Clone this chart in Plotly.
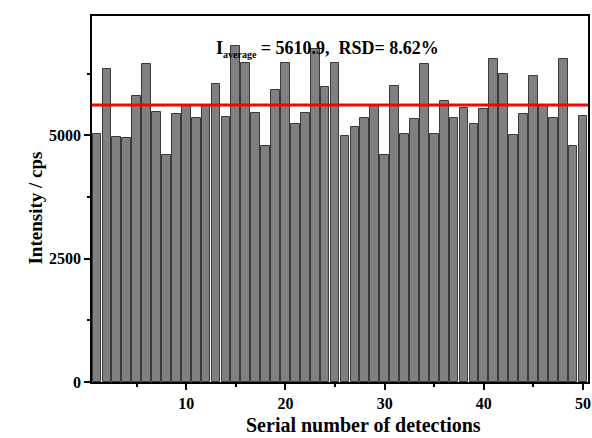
import plotly.graph_objects as go

serial = list(range(1, 51))
intensity = [5030, 6336, 4965, 4938, 5803, 6438, 5465, 4594, 5431, 5601,
             5357, 5601, 6046, 5370, 6809, 6472, 5442, 4782, 5917, 6464,
             5236, 5445, 6748, 5986, 6464, 4993, 5175, 5357, 5601, 4595,
             6006, 5033, 5323, 6438, 5019, 5702, 5357, 5546, 5228, 5532,
             6545, 6241, 4999, 5431, 6195, 5613, 5343, 6545, 4789, 5398]
average = 5610.9
rsd = 8.62
y_ticks = [0, 2500, 5000]
x_ticks = [10, 20, 30, 40, 50]

FONT = "Liberation Serif"

fig = go.Figure()
fig.add_trace(go.Bar(
    x=serial, y=intensity, width=0.88,
    marker=dict(color="#808080", line=dict(color="#3a3a3a", width=1)),
    showlegend=False,
))
fig.add_hline(y=average, line=dict(color="#ff0000", width=3))

axis_common = dict(
    showline=True, linecolor="black", linewidth=1.5, mirror=True,
    showgrid=False, zeroline=False,
    ticks="outside", tickcolor="black", tickwidth=1.5, ticklen=6,
    tickfont=dict(family=FONT, size=16, color="black", weight="bold"),
)

fig.update_xaxes(
    range=[0.5, 50.5], tickvals=x_ticks,
    minor=dict(tickvals=[5, 15, 25, 35, 45], ticks="outside", ticklen=3,
               tickcolor="black", tickwidth=1.5),
    **axis_common,
)
fig.update_yaxes(
    range=[0, 7416], tickvals=y_ticks,
    minor=dict(tickvals=[1250, 3750, 6250], ticks="outside", ticklen=3,
               tickcolor="black", tickwidth=1.5),
    **axis_common,
)

fig.add_annotation(
    xref="paper", yref="paper", x=-0.1386, y=0.476,
    text="Intensity / cps", textangle=-90, showarrow=False,
    font=dict(family=FONT, size=19, color="black", weight="bold"),
)
fig.add_annotation(
    xref="paper", yref="paper", x=0.547, y=-0.118, yanchor="middle",
    text="Serial number of detections", showarrow=False,
    font=dict(family=FONT, size=20, color="black", weight="bold"),
)
fig.add_annotation(
    xref="paper", yref="paper", x=0.474, y=0.944,
    text=(f"I<sub><span style='font-size:10px'>average</span></sub>"
          f" = {average},  RSD= {rsd}%"),
    showarrow=False,
    font=dict(family=FONT, size=18, color="black", weight="bold"),
)

fig.update_layout(
    width=592, height=438,
    margin=dict(l=92, r=2, t=16, b=56),
    plot_bgcolor="white", paper_bgcolor="white",
    bargap=0,
)

fig.write_html(
    "out.html",
    config={"displayModeBar": False},
    post_script="document.body.style.margin='0';document.body.style.overflow='hidden';",
)
